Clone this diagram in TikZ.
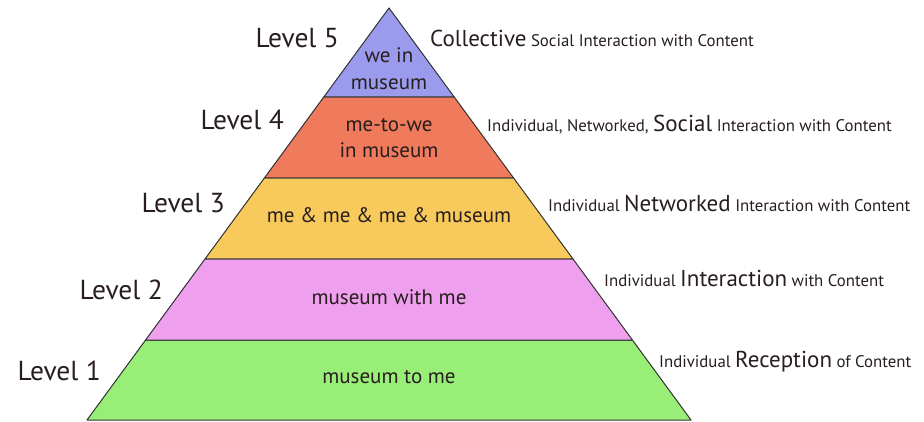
\documentclass[tikz,border=0pt]{standalone}
\usepackage{fontspec}
\setmainfont{PT Sans}
\definecolor{cblue}{RGB}{155,155,238}
\definecolor{corange}{RGB}{240,122,92}
\definecolor{cyellow}{RGB}{248,202,92}
\definecolor{cpink}{RGB}{238,160,238}
\definecolor{cgreen}{RGB}{153,238,119}
\definecolor{cline}{RGB}{50,50,50}
\definecolor{ctext}{RGB}{40,30,30}
\tikzset{
  band/.style={draw=cline, line width=1pt, line join=round},
  lvl/.style={anchor=base east, inner sep=0pt, font=\fontsize{27.5}{31}\selectfont, text=ctext},
  inner/.style={anchor=base, inner sep=0pt, font=\fontsize{21}{25}\selectfont, text=ctext},
  desc/.style={anchor=base west, inner sep=0pt, font=\fontsize{16.8}{20}\selectfont, text=ctext}
}
\newcommand{\bigw}[1]{{\fontsize{23}{27}\selectfont #1}}
\begin{document}
\begin{tikzpicture}[x=1pt,y=-1pt]
\useasboundingbox (0,0) rectangle (924,422);
% bands
\filldraw[band, fill=cgreen] (145.6,340) -- (632.4,340) -- (691,420) -- (87,420) -- cycle;
\filldraw[band, fill=cpink] (205,259) -- (573,259) -- (632.4,340) -- (145.6,340) -- cycle;
\filldraw[band, fill=cyellow] (264.4,178) -- (513.6,178) -- (573,259) -- (205,259) -- cycle;
\filldraw[band, fill=corange] (323.8,97) -- (454.2,97) -- (513.6,178) -- (264.4,178) -- cycle;
\filldraw[band, fill=cblue] (389,8) -- (454.2,97) -- (323.8,97) -- cycle;
% level labels
\node[lvl] (l5) at (339,48) {Level 5};
\node[lvl] (l4) at (284,130) {Level 4};
\node[lvl] (l3) at (225,213) {Level 3};
\node[lvl] (l2) at (163,299) {Level 2};
\node[lvl] (l1) at (101,380) {Level 1};
% inner texts
\node[inner] (t5a) at (389,63) {we in};
\node[inner] (t5b) at (389,90) {museum};
\node[inner] (t4a) at (389,132) {me-to-we};
\node[inner] (t4b) at (389,158) {in museum};
\node[inner] (t3) at (389,223) {me \& me \& me \& museum};
\node[inner] (t2) at (389,305) {museum with me};
\node[inner] (t1) at (389,383) {museum to me};
% descriptions
\node[desc] (d5) at (430,47) {\bigw{Collective} Social Interaction with Content};
\node[desc] (d4) at (487,132) {Individual, Networked, \bigw{Social} Interaction with Content};
\node[desc] (d3) at (548,212) {Individual \bigw{Networked} Interaction with Content};
\node[desc] (d2) at (604,287) {Individual \bigw{Interaction} with Content};
\node[desc] (d1) at (659,367) {Individual \bigw{Reception} of Content};
\end{tikzpicture}
\end{document}
